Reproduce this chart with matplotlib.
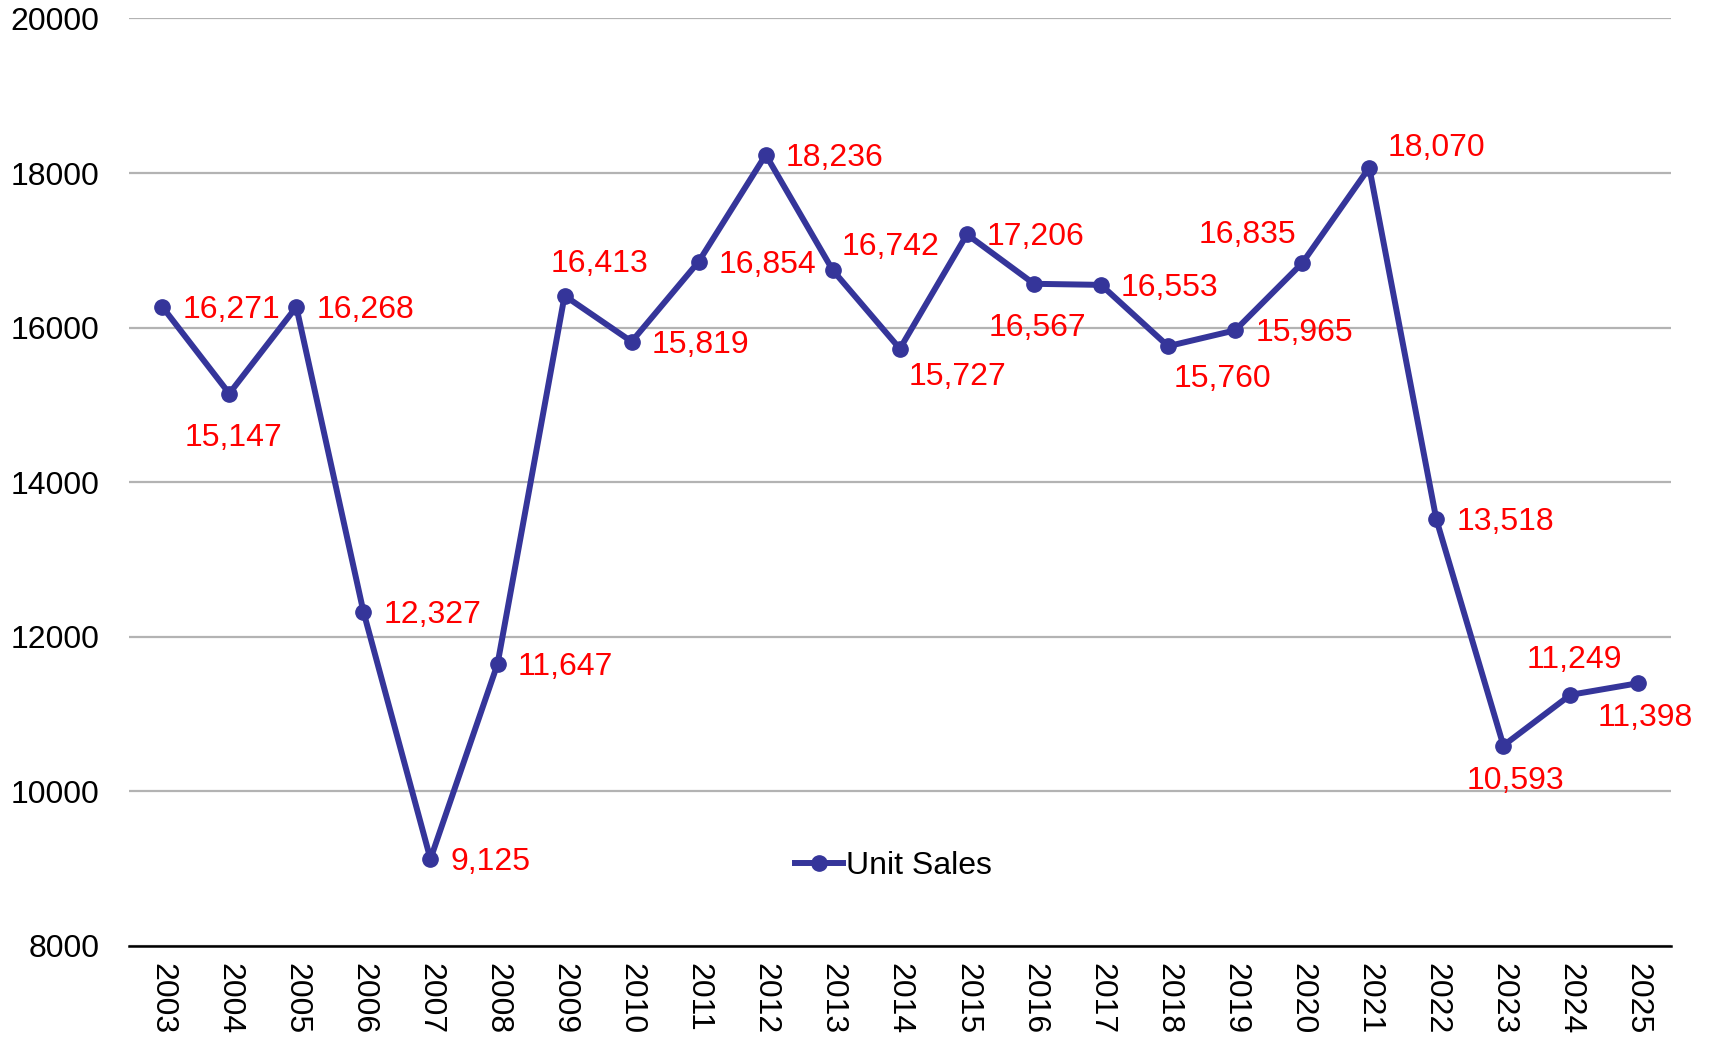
import matplotlib
matplotlib.use('Agg')
import matplotlib.pyplot as plt
import numpy as np

plt.rcParams['font.family'] = ['Liberation Sans', 'DejaVu Sans']

years = ['2003', '2004', '2005', '2006', '2007', '2008', '2009', '2010', '2011', '2012',
         '2013', '2014', '2015', '2016', '2017', '2018', '2019', '2020', '2021', '2022',
         '2023', '2024', '2025']
unit_sales = [16271, 15147, 16268, 12327, 9125, 11647, 16413, 15819, 16854, 18236,
              16742, 15727, 17206, 16567, 16553, 15760, 15965, 16835, 18070, 13518,
              10593, 11249, 11398]

# label placement (dx, dy in pixels, horizontal alignment)
R = (20, 0, 'left')
label_pos = [R, (4, -41, 'center'), R, R, R, R, (35, 35, 'center'), R, R, R,
             (9, 26, 'left'), (9, -25, 'left'), R, (3, -41, 'center'), R,
             (6, -30, 'left'), R, (-6, 31, 'right'), (18, 23, 'left'), R,
             (12, -32, 'center'), (4, 38, 'center'), (8, -32, 'center')]

fig = plt.figure(figsize=(17.09, 10.37), dpi=100)
ax = fig.add_axes([0.0753, 0.0878, 0.9025, 0.8944])

x = np.arange(len(years))
ax.plot(x, unit_sales, color='#35359a', lw=4.3, marker='o', ms=11, label='Unit Sales',
        solid_joinstyle='round', zorder=3)

for i, v in enumerate(unit_sales):
    dx, dy, ha = label_pos[i]
    ax.annotate(f'{v:,}', (x[i], v), xytext=(dx, dy - 3), textcoords='offset pixels',
                ha=ha, va='center', color='#ff0000', fontsize=23, zorder=4)

ax.set_ylim(8000, 20000)
ax.set_xlim(-0.5, len(years) - 0.5)
ax.set_yticks(range(8000, 20001, 2000))
ax.set_xticks(x)
ax.set_xticklabels(years, rotation=270, fontsize=23)
ax.tick_params(axis='y', labelsize=23, length=0, pad=21)
ax.tick_params(axis='x', length=0, pad=12)
ax.yaxis.grid(True, color='#b3b3b3', lw=1.6)
ax.set_axisbelow(True)
for s in ['top', 'right', 'left']:
    ax.spines[s].set_visible(False)
ax.spines['bottom'].set_linewidth(1.8)
ax.spines['bottom'].set_zorder(5)

ax.legend(loc='center', bbox_to_anchor=(0.496, 0.086), frameon=False, fontsize=23,
          handlelength=1.5, handletextpad=0.1, markerscale=1.0)

fig.savefig('out.png', dpi=100)
